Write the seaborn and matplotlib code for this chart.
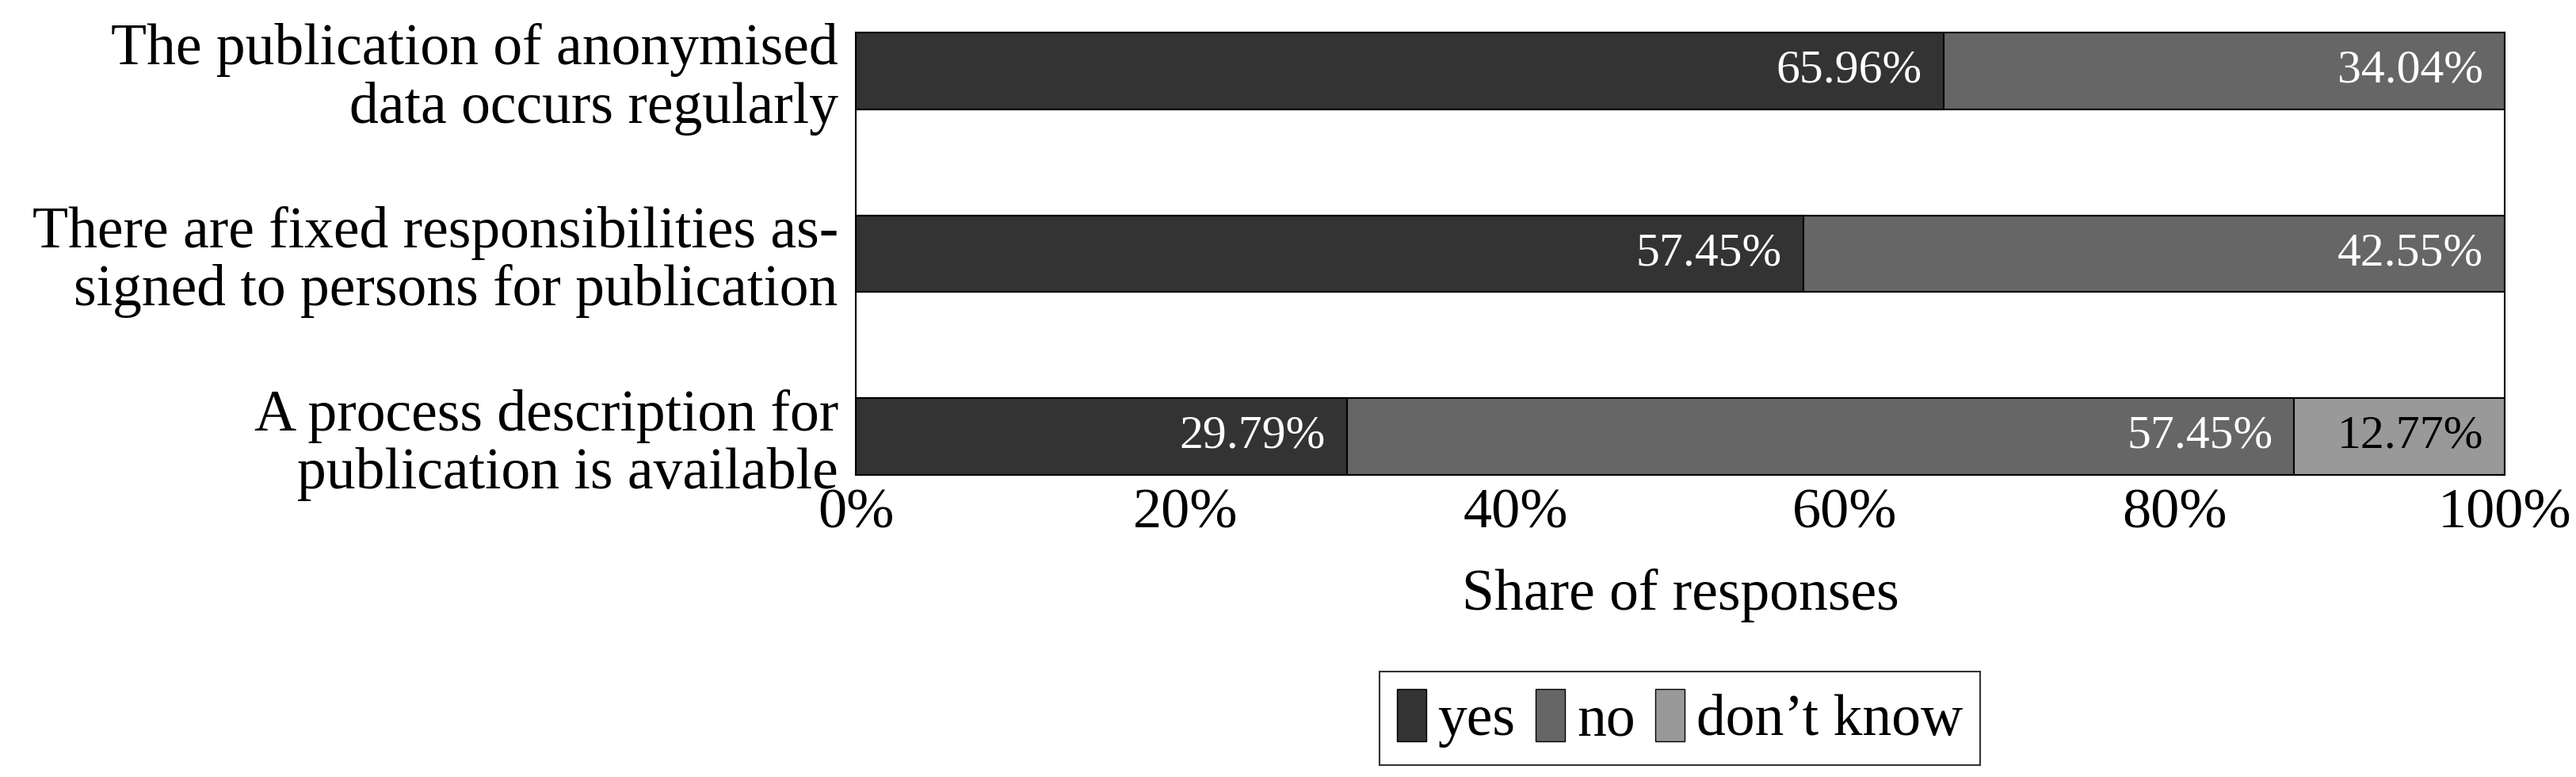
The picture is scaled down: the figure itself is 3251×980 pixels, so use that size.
import matplotlib
matplotlib.use("Agg")
import matplotlib.pyplot as plt
import seaborn as sns
import numpy as np
import pandas as pd
from matplotlib.patches import Patch

categories = [
    "The publication of anonymised\ndata occurs regularly",
    "There are fixed responsibilities as-\nsigned to persons for publication",
    "A process description for\npublication is available",
]
series_names = ["yes", "no", "don\u2019t know"]
yes_vals = [65.96, 57.45, 29.79]
no_vals = [34.04, 42.55, 57.45]
dk_vals = [0.0, 0.0, 12.77]
colors = ["#333333", "#666666", "#999999"]
label_colors = ["white", "white", "black"]

sns.set_theme(style="white")
plt.rcParams["font.family"] = ["Liberation Serif", "DejaVu Serif"]
plt.rcParams["text.color"] = "black"
plt.rcParams["xtick.color"] = "black"
plt.rcParams["ytick.color"] = "black"
plt.rcParams["axes.labelcolor"] = "black"

fig = plt.figure(figsize=(32.51, 9.80), dpi=100)
ax = fig.add_axes([1080 / 3251, 1 - 599 / 980, (3161 - 1080) / 3251, (599 - 41) / 980])

series = [yes_vals, no_vals, dk_vals]
cums = np.cumsum(np.array(series), axis=0)

# draw cumulative bars from the outermost layer inward
for i in range(len(series) - 1, -1, -1):
    df = pd.DataFrame({"cat": categories, "val": cums[i]})
    sns.barplot(data=df, x="val", y="cat", orient="h", color=colors[i],
                saturation=1, width=0.42, edgecolor="black", linewidth=1.5, ax=ax)

# value labels at the right end of each segment
for i, vals in enumerate(series):
    for j, v in enumerate(vals):
        if v <= 0:
            continue
        ax.text(cums[i][j] - 1.3, j, f"{v:.2f}%", ha="right", va="center",
                color=label_colors[i], fontsize=43)

ax.set_xlim(0, 100)
ax.set_ylim(2.21, -0.21)
ax.set_xticks([0, 20, 40, 60, 80, 100])
ax.set_xticklabels([f"{t}%" for t in [0, 20, 40, 60, 80, 100]], fontsize=52)
ax.tick_params(axis="x", length=0, pad=12)
ax.tick_params(axis="y", length=0, pad=16, labelsize=53)
for lbl in ax.get_yticklabels():
    lbl.set_horizontalalignment("right")
    lbl.set_linespacing(1.1)
ax.set_ylabel("")
ax.set_xlabel("Share of responses", fontsize=53, labelpad=26)
for s in ax.spines.values():
    s.set_visible(True)
    s.set_color("black")
    s.set_linewidth(1.5)

handles = [Patch(facecolor=c, edgecolor="black", linewidth=1.0) for c in colors]
leg = fig.legend(handles, series_names, loc="center", bbox_to_anchor=(2120 / 3251, 1 - 906 / 980),
                 ncol=3, fontsize=53, frameon=True, fancybox=False, edgecolor="black",
                 handlelength=0.5, handleheight=1.0, handletextpad=0.2, columnspacing=0.35,
                 borderpad=0.3, borderaxespad=0)
leg.get_frame().set_linewidth(1.5)

fig.savefig("out.png", dpi=100, facecolor="white")
